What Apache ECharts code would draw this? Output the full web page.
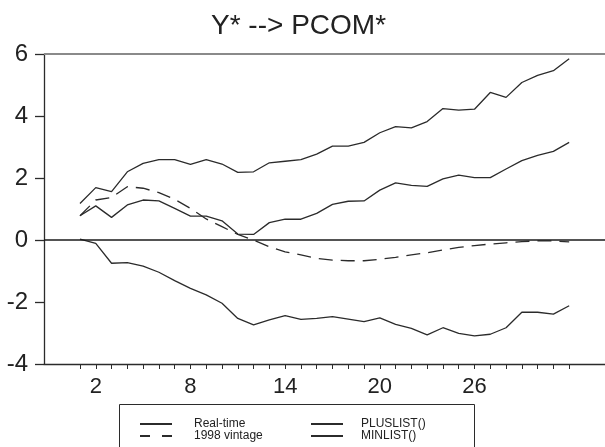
<!DOCTYPE html>
<html>
<head>
<meta charset="utf-8">
<script src="https://cdn.jsdelivr.net/npm/echarts@6/dist/echarts.min.js"></script>
<style>
  html, body { margin: 0; padding: 0; background: #fff; }
  #chart { width: 605px; height: 447px; }
</style>
</head>
<body>
<div id="chart"></div>
<script>
// Horizon steps
const steps = [1, 2, 3, 4, 5, 6, 7, 8, 9, 10, 11, 12, 13, 14, 15, 16,
               17, 18, 19, 20, 21, 22, 23, 24, 25, 26, 27, 28, 29, 30, 31, 32];
const stepLabels = [2, 8, 14, 20, 26];
const yTicks = [-4, -2, 0, 2, 4, 6];

// Responses
const realTime = [0.78, 1.10, 0.73, 1.13, 1.29, 1.26, 1.02, 0.77, 0.77, 0.62, 0.19, 0.18,
                  0.56, 0.67, 0.67, 0.86, 1.15, 1.25, 1.26, 1.61, 1.84, 1.76, 1.73, 1.97,
                  2.09, 2.01, 2.01, 2.29, 2.56, 2.73, 2.86, 3.15];
const vintage1998 = [0.78, 1.29, 1.37, 1.72, 1.67, 1.53, 1.31, 1.02, 0.68, 0.43, 0.18, 0.00,
                     -0.22, -0.38, -0.48, -0.59, -0.65, -0.67, -0.67, -0.62, -0.56, -0.48, -0.41, -0.32,
                     -0.24, -0.18, -0.13, -0.09, -0.05, -0.03, -0.03, -0.06];
const plusList = [1.18, 1.69, 1.56, 2.20, 2.47, 2.59, 2.59, 2.44, 2.59, 2.45, 2.18, 2.20,
                  2.49, 2.54, 2.59, 2.77, 3.03, 3.03, 3.15, 3.46, 3.66, 3.62, 3.82, 4.24,
                  4.19, 4.22, 4.76, 4.60, 5.08, 5.31, 5.46, 5.85];
const minList = [0.03, -0.11, -0.75, -0.73, -0.84, -1.04, -1.31, -1.56, -1.77, -2.04, -2.53, -2.74,
                 -2.58, -2.44, -2.56, -2.53, -2.47, -2.55, -2.63, -2.51, -2.72, -2.85, -3.06, -2.83,
                 -3.01, -3.09, -3.04, -2.83, -2.33, -2.33, -2.39, -2.12];

const FONT = '"Liberation Sans", Arial, sans-serif';
const INK = '#222';
const LINE = '#2b2b2b';

const pairs = vals => steps.map((s, i) => [s, vals[i]]);

function lineSeries(name, vals, dash) {
  return {
    name: name,
    type: 'line',
    data: pairs(vals),
    symbol: 'none',
    silent: true,
    animation: false,
    lineStyle: { color: LINE, width: 1.3, type: dash ? [14, 8] : 'solid' },
    itemStyle: { color: LINE }
  };
}

const series = [
  lineSeries('PLUSLIST()', plusList, false),
  lineSeries('Real-time', realTime, false),
  lineSeries('MINLIST()', minList, false),
  lineSeries('1998 vintage', vintage1998, true)
];

// Reference lines at zero and at the top of the scale
series[0].markLine = {
  silent: true,
  symbol: 'none',
  label: { show: false },
  animation: false,
  data: [
    { yAxis: 0, lineStyle: { color: '#1a1a1a', width: 1.5, type: 'solid' } },
    { yAxis: 6, lineStyle: { color: '#8a8a8a', width: 2, type: 'solid' } }
  ]
};

function legendColumn(left, textGap, items) {
  return {
    orient: 'vertical',
    left: left,
    top: 418,
    padding: 0,
    itemWidth: 32,
    itemHeight: 8,
    itemGap: 0,
    selectedMode: false,
    itemStyle: { opacity: 0 },
    textStyle: { fontFamily: FONT, fontSize: 12, color: INK, padding: [0, 0, 0, textGap], lineHeight: 12 },
    data: items
  };
}

const chart = echarts.init(document.getElementById('chart'), null, { renderer: 'canvas' });
chart.setOption({
  backgroundColor: '#fff',
  animation: false,
  title: {
    text: 'Y* --> PCOM*',
    left: 206,
    top: 7,
    textStyle: { fontFamily: FONT, fontSize: 28, fontWeight: 'normal', color: INK }
  },
  grid: { left: 44, right: 0, top: 54, bottom: 83, containLabel: false },
  xAxis: {
    type: 'value',
    min: -1.28,
    max: 34.27,
    axisLine: { show: true, onZero: false, lineStyle: { color: LINE, width: 1.3 } },
    axisTick: { show: true, length: 5, customValues: steps, lineStyle: { color: LINE, width: 1 } },
    axisLabel: {
      show: true,
      customValues: stepLabels,
      margin: 12,
      fontFamily: FONT, fontSize: 22, color: INK
    },
    splitLine: { show: false }
  },
  yAxis: {
    type: 'value',
    min: -4,
    max: 6,
    interval: 2,
    axisLine: { show: true, onZero: false, lineStyle: { color: LINE, width: 1.3 } },
    axisTick: { show: true, length: 9, customValues: yTicks, lineStyle: { color: LINE, width: 1.3 } },
    axisLabel: { margin: 16, fontFamily: FONT, fontSize: 24, color: INK },
    splitLine: { show: false }
  },
  legend: [
    legendColumn(139, 17, [
      { name: 'Real-time' },
      { name: '1998 vintage', lineStyle: { type: [10, 12] } }
    ]),
    legendColumn(310, 13, [{ name: 'PLUSLIST()' }, { name: 'MINLIST()' }])
  ],
  graphic: [
    {
      type: 'rect',
      left: 117,
      top: 402,
      shape: { width: 355, height: 60 },
      style: { fill: 'none', stroke: LINE, lineWidth: 1 },
      silent: true
    }
  ],
  series: series
});
</script>
</body>
</html>
